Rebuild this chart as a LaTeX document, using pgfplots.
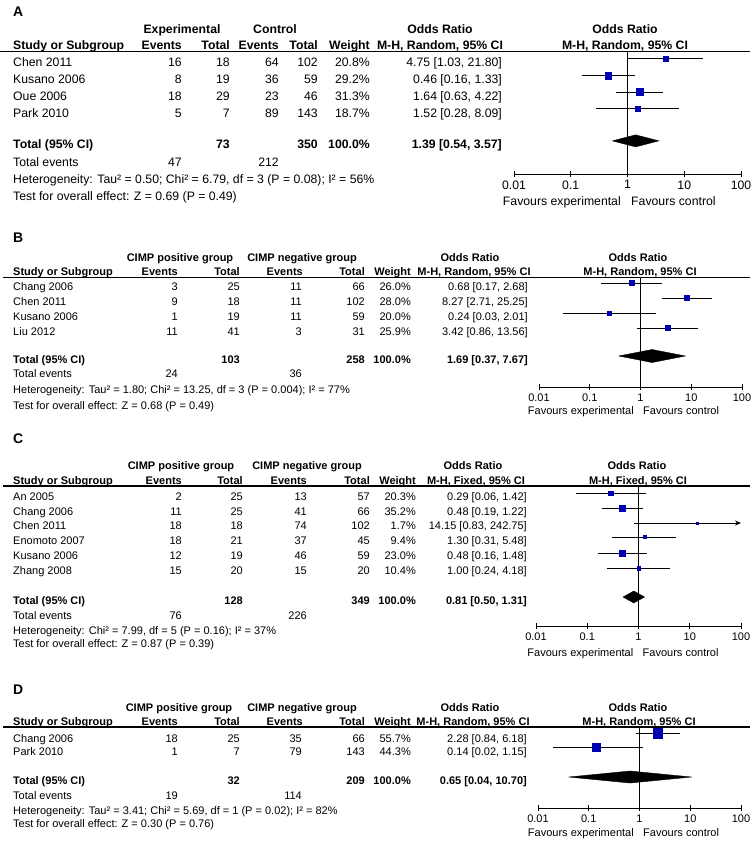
\documentclass[border=0pt]{standalone}
\usepackage{fontspec}
\setmainfont{Liberation Sans}
\usepackage{pgfplots}
\pgfplotsset{compat=1.18}
\usetikzlibrary{arrows.meta}
\definecolor{sq}{RGB}{0,0,175}
\newcommand\fa{\fontsize{12.3}{14}\selectfont}
\newcommand\fb{\fontsize{11.05}{13}\selectfont}
\newcommand\ft{\fontsize{14}{16}\selectfont\bfseries}
\tikzset{L/.style={anchor=base west,inner sep=0pt},
         R/.style={anchor=base east,inner sep=0pt},
         C/.style={anchor=base,inner sep=0pt}}
\pgfplotsset{forestax/.style={xmin=0.01, xmax=100, scale only axis,
  axis x line=bottom, axis y line=none, axis line style={-, black, line width=0.8pt},
  xtick={0.01,0.1,1,10,100}, xticklabels={0.01,0.1,1,10,100}, xminorticks=false,
  tick align=center, major tick length=6bp, tick style={black, line width=0.8pt},
  clip=false, enlargelimits=false, ytick=\empty, anchor=south west}}
% y, study, events, total, events, total, weight, OR
\newcommand\srow[8]{%
 \node[L] at (13,#1) {#2};
 \node[R] at (\cE,#1) {#3};
 \node[R] at (\cT,#1) {#4};
 \node[R] at (\cCE,#1) {#5};
 \node[R] at (\cCT,#1) {#6};
 \node[R] at (\cW,#1) {#7};
 \node[R] at (\cOR,#1) {#8};}
% or, lo, hi, y, half size
\newcommand\study[5]{%
 \addplot[black, line width=0.7pt, forget plot] coordinates {(#2,#4) (#3,#4)};
 \addplot[only marks, mark=square*, mark size=#5, color=sq, forget plot] coordinates {(#1,#4)};}
% lo, or, hi, ymid, ytop, ybot
\newcommand\diam[6]{%
 \addplot[fill=black, draw=black, forget plot] coordinates {(#1,#4) (#2,#5) (#3,#4) (#2,#6) (#1,#4)};}
\begin{document}
\begin{tikzpicture}[x=1bp,y=-1bp]
\useasboundingbox (0,0) rectangle (755,841);
%%%%%%%%%%%%%%%% Panel A
\begin{scope}[font=\fa]
\def\cE{182}\def\cT{230}\def\cCE{279}\def\cCT{318}\def\cW{370}\def\cOR{502}
\node[L,font=\ft] at (13,16) {A};
\node[C,font=\fa\bfseries] at (182,33) {Experimental};
\node[C,font=\fa\bfseries] at (275,33) {Control};
\node[C,font=\fa\bfseries] at (440,33) {Odds Ratio};
\node[C,font=\fa\bfseries] at (625,33) {Odds Ratio};
\node[L,font=\fa\bfseries] at (13,49) {Study or Subgroup};
\node[R,font=\fa\bfseries] at (182,49) {Events};
\node[R,font=\fa\bfseries] at (230,49) {Total};
\node[R,font=\fa\bfseries] at (279,49) {Events};
\node[R,font=\fa\bfseries] at (318,49) {Total};
\node[R,font=\fa\bfseries] at (370,49) {Weight};
\node[C,font=\fa\bfseries] at (440,49) {M-H, Random, 95\% CI};
\node[C,font=\fa\bfseries] at (625,49) {M-H, Random, 95\% CI};
\draw[line width=1.3bp] (0,51.5) -- (750,51.5);
\srow{66}{Chen 2011}{16}{18}{64}{102}{20.8\%}{4.75 [1.03, 21.80]}
\srow{83}{Kusano 2006}{8}{19}{36}{59}{29.2\%}{0.46 [0.16, 1.33]}
\srow{100}{Oue 2006}{18}{29}{23}{46}{31.3\%}{1.64 [0.63, 4.22]}
\srow{117}{Park 2010}{5}{7}{89}{143}{18.7\%}{1.52 [0.28, 8.09]}
\begin{scope}[font=\fa\bfseries]
\srow{148}{Total (95\% CI)}{}{73}{}{350}{100.0\%}{1.39 [0.54, 3.57]}
\end{scope}
\node[L] at (13,166) {Total events};
\node[R] at (182,166) {47};
\node[R] at (279,166) {212};
\node[L] at (13,183) {Heterogeneity: Tau² = 0.50; Chi² = 6.79, df = 3 (P = 0.08); I² = 56\%};
\node[L] at (13,200) {Test for overall effect: Z = 0.69 (P = 0.49)};
\node[R] at (621,205) {Favours experimental};
\node[L] at (631,205) {Favours control};
\end{scope}
\begin{semilogxaxis}[forestax, at={(514bp,-174bp)}, width=227bp, height=123bp, ymin=-174, ymax=-51.5,
  tick label style={font=\fa}]
\addplot[black, line width=0.8pt, forget plot] coordinates {(1,-51.5) (1,-174)};
\study{4.75}{1.03}{21.80}{-59}{2.5}
\study{0.46}{0.16}{1.33}{-76}{3.2}
\study{1.64}{0.63}{4.22}{-92.5}{3.5}
\study{1.52}{0.28}{8.09}{-108.5}{2.5}
\diam{0.54}{1.39}{3.57}{-141}{-135}{-147}
\end{semilogxaxis}
%%%%%%%%%%%%%%%% Panel B
\begin{scope}[font=\fb]
\def\cE{178}\def\cT{240}\def\cCE{302}\def\cCT{365}\def\cW{411}\def\cOR{528}
\node[L,font=\ft] at (13,242) {B};
\node[C,font=\fb\bfseries] at (180,261) {CIMP positive group};
\node[C,font=\fb\bfseries] at (302,261) {CIMP negative group};
\node[C,font=\fb\bfseries] at (470,261) {Odds Ratio};
\node[C,font=\fb\bfseries] at (638,261) {Odds Ratio};
\node[L,font=\fb\bfseries] at (13,275) {Study or Subgroup};
\node[R,font=\fb\bfseries] at (178,275) {Events};
\node[R,font=\fb\bfseries] at (240,275) {Total};
\node[R,font=\fb\bfseries] at (303,275) {Events};
\node[R,font=\fb\bfseries] at (365,275) {Total};
\node[R,font=\fb\bfseries] at (411,275) {Weight};
\node[C,font=\fb\bfseries] at (474,275) {M-H, Random, 95\% CI};
\node[C,font=\fb\bfseries] at (640,275) {M-H, Random, 95\% CI};
\draw[line width=1.3bp] (3,277.5) -- (750,277.5);
\srow{290}{Chang 2006}{3}{25}{11}{66}{26.0\%}{0.68 [0.17, 2.68]}
\srow{305}{Chen 2011}{9}{18}{11}{102}{28.0\%}{8.27 [2.71, 25.25]}
\srow{320}{Kusano 2006}{1}{19}{11}{59}{20.0\%}{0.24 [0.03, 2.01]}
\srow{335}{Liu 2012}{11}{41}{3}{31}{25.9\%}{3.42 [0.86, 13.56]}
\begin{scope}[font=\fb\bfseries]
\srow{363}{Total (95\% CI)}{}{103}{}{258}{100.0\%}{1.69 [0.37, 7.67]}
\end{scope}
\node[L] at (13,377) {Total events};
\node[R] at (178,377) {24};
\node[R] at (302,377) {36};
\node[L] at (13,393) {Heterogeneity: Tau² = 1.80; Chi² = 13.25, df = 3 (P = 0.004); I² = 77\%};
\node[L] at (13,409) {Test for overall effect: Z = 0.68 (P = 0.49)};
\node[R] at (634,414) {Favours experimental};
\node[L] at (643,414) {Favours control};
\end{scope}
\begin{semilogxaxis}[forestax, at={(539bp,-387bp)}, width=203bp, height=109.5bp, ymin=-387, ymax=-277.5,
  tick label style={font=\fb}]
\addplot[black, line width=0.8pt, forget plot] coordinates {(1,-277.5) (1,-387)};
\study{0.68}{0.17}{2.68}{-283}{2.5}
\study{8.27}{2.71}{25.25}{-298}{2.5}
\study{0.24}{0.03}{2.01}{-313}{2.3}
\study{3.42}{0.86}{13.56}{-328}{2.5}
\diam{0.37}{1.69}{7.67}{-356}{-349.5}{-362.5}
\end{semilogxaxis}
%%%%%%%%%%%%%%%% Panel C
\begin{scope}[font=\fb]
\def\cE{182}\def\cT{243}\def\cCE{307}\def\cCT{370}\def\cW{416}\def\cOR{527}
\node[L,font=\ft] at (13,443) {C};
\node[C,font=\fb\bfseries] at (181,469) {CIMP positive group};
\node[C,font=\fb\bfseries] at (307,469) {CIMP negative group};
\node[C,font=\fb\bfseries] at (473,469) {Odds Ratio};
\node[C,font=\fb\bfseries] at (637,469) {Odds Ratio};
\node[L,font=\fb\bfseries] at (13,484) {Study or Subgroup};
\node[R,font=\fb\bfseries] at (182,484) {Events};
\node[R,font=\fb\bfseries] at (243,484) {Total};
\node[R,font=\fb\bfseries] at (307,484) {Events};
\node[R,font=\fb\bfseries] at (370,484) {Total};
\node[R,font=\fb\bfseries] at (416,484) {Weight};
\node[C,font=\fb\bfseries] at (476,484) {M-H, Fixed, 95\% CI};
\node[C,font=\fb\bfseries] at (638,484) {M-H, Fixed, 95\% CI};
\draw[line width=1.3bp] (3,486) -- (750,486);
\srow{500}{An 2005}{2}{25}{13}{57}{20.3\%}{0.29 [0.06, 1.42]}
\srow{515}{Chang 2006}{11}{25}{41}{66}{35.2\%}{0.48 [0.19, 1.22]}
\srow{529.5}{Chen 2011}{18}{18}{74}{102}{1.7\%}{14.15 [0.83, 242.75]}
\srow{544}{Enomoto 2007}{18}{21}{37}{45}{9.4\%}{1.30 [0.31, 5.48]}
\srow{559}{Kusano 2006}{12}{19}{46}{59}{23.0\%}{0.48 [0.16, 1.48]}
\srow{574}{Zhang 2008}{15}{20}{15}{20}{10.4\%}{1.00 [0.24, 4.18]}
\begin{scope}[font=\fb\bfseries]
\srow{604}{Total (95\% CI)}{}{128}{}{349}{100.0\%}{0.81 [0.50, 1.31]}
\end{scope}
\node[L] at (13,619) {Total events};
\node[R] at (182,619) {76};
\node[R] at (307,619) {226};
\node[L] at (13,634) {Heterogeneity: Chi² = 7.99, df = 5 (P = 0.16); I² = 37\%};
\node[L] at (13,647) {Test for overall effect: Z = 0.87 (P = 0.39)};
\node[R] at (633.5,656) {Favours experimental};
\node[L] at (642.5,656) {Favours control};
\end{scope}
\begin{semilogxaxis}[forestax, at={(536bp,-626bp)}, width=205bp, height=140bp, ymin=-626, ymax=-486,
  tick label style={font=\fb}]
\addplot[black, line width=0.8pt, forget plot] coordinates {(1,-486) (1,-626)};
\study{0.29}{0.06}{1.42}{-493}{2.3}
\study{0.48}{0.19}{1.22}{-508}{3.3}
\addplot[black, line width=0.7pt, -{Stealth[length=6bp,width=5bp]}, forget plot] coordinates {(0.83,-523) (100,-523)};
\addplot[only marks, mark=square*, mark size=0.8, color=sq, forget plot] coordinates {(14.15,-523)};
\study{1.30}{0.31}{5.48}{-537}{1.5}
\study{0.48}{0.16}{1.48}{-553}{2.7}
\study{1.00}{0.24}{4.18}{-568}{1.8}
\diam{0.50}{0.81}{1.31}{-597}{-591}{-603}
\end{semilogxaxis}
%%%%%%%%%%%%%%%% Panel D
\begin{scope}[font=\fb]
\def\cE{178}\def\cT{240}\def\cCE{302}\def\cCT{365}\def\cW{411}\def\cOR{527}
\node[L,font=\ft] at (13,694) {D};
\node[C,font=\fb\bfseries] at (179,711) {CIMP positive group};
\node[C,font=\fb\bfseries] at (302,711) {CIMP negative group};
\node[C,font=\fb\bfseries] at (470,711) {Odds Ratio};
\node[C,font=\fb\bfseries] at (638,711) {Odds Ratio};
\node[L,font=\fb\bfseries] at (13,725) {Study or Subgroup};
\node[R,font=\fb\bfseries] at (178,725) {Events};
\node[R,font=\fb\bfseries] at (240,725) {Total};
\node[R,font=\fb\bfseries] at (303,725) {Events};
\node[R,font=\fb\bfseries] at (365,725) {Total};
\node[R,font=\fb\bfseries] at (411,725) {Weight};
\node[C,font=\fb\bfseries] at (473,725) {M-H, Random, 95\% CI};
\node[C,font=\fb\bfseries] at (639,725) {M-H, Random, 95\% CI};
\draw[line width=1.3bp] (3,727) -- (750,727);
\srow{742}{Chang 2006}{18}{25}{35}{66}{55.7\%}{2.28 [0.84, 6.18]}
\srow{755}{Park 2010}{1}{7}{79}{143}{44.3\%}{0.14 [0.02, 1.15]}
\begin{scope}[font=\fb\bfseries]
\srow{784}{Total (95\% CI)}{}{32}{}{209}{100.0\%}{0.65 [0.04, 10.70]}
\end{scope}
\node[L] at (13,799) {Total events};
\node[R] at (178,799) {19};
\node[R] at (302,799) {114};
\node[L] at (13,814) {Heterogeneity: Tau² = 3.41; Chi² = 5.69, df = 1 (P = 0.02); I² = 82\%};
\node[L] at (13,827) {Test for overall effect: Z = 0.30 (P = 0.76)};
\node[R] at (634,836) {Favours experimental};
\node[L] at (643,836) {Favours control};
\end{scope}
\begin{semilogxaxis}[forestax, at={(538bp,-808bp)}, width=203bp, height=81bp, ymin=-808, ymax=-727,
  tick label style={font=\fb}]
\addplot[black, line width=0.8pt, forget plot] coordinates {(1,-727) (1,-808)};
\study{2.28}{0.84}{6.18}{-733}{5}
\study{0.14}{0.02}{1.15}{-747}{4}
\diam{0.04}{0.65}{10.70}{-777}{-771}{-783}
\end{semilogxaxis}
\end{tikzpicture}
\end{document}
